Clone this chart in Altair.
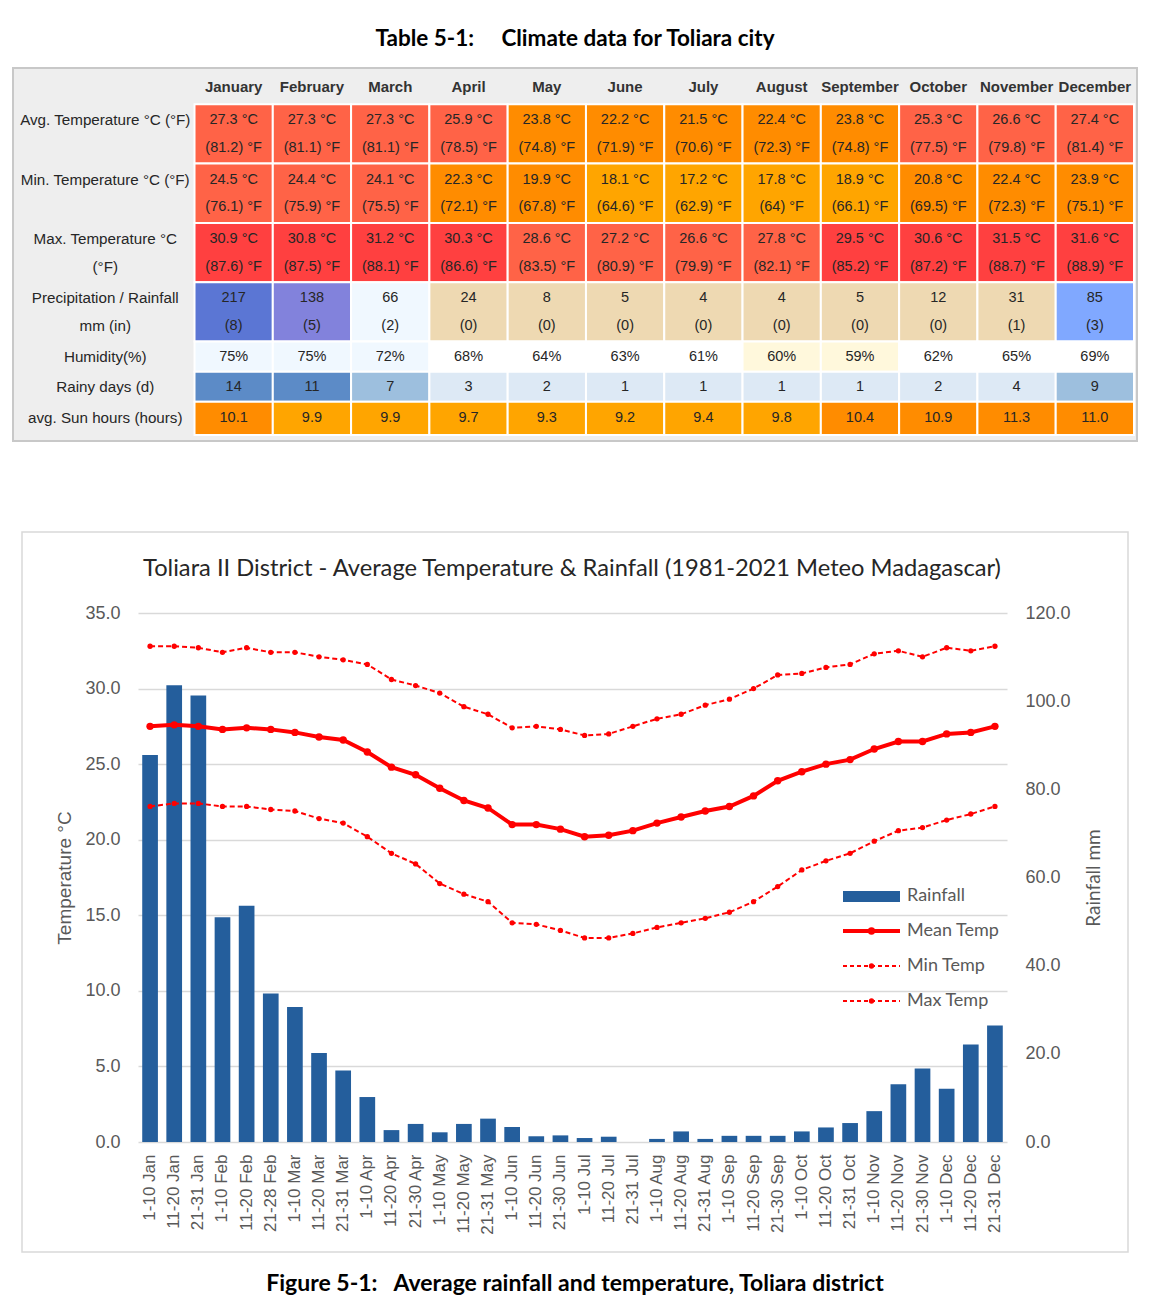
import altair as alt
import numpy as np
import pandas as pd

# ---------------- Table data ----------------
months = ["January", "February", "March", "April", "May", "June", "July",
          "August", "September", "October", "November", "December"]
avg_c = [27.3, 27.3, 27.3, 25.9, 23.8, 22.2, 21.5, 22.4, 23.8, 25.3, 26.6, 27.4]
avg_f = [81.2, 81.1, 81.1, 78.5, 74.8, 71.9, 70.6, 72.3, 74.8, 77.5, 79.8, 81.4]
min_c = [24.5, 24.4, 24.1, 22.3, 19.9, 18.1, 17.2, 17.8, 18.9, 20.8, 22.4, 23.9]
min_f = [76.1, 75.9, 75.5, 72.1, 67.8, 64.6, 62.9, 64, 66.1, 69.5, 72.3, 75.1]
max_c = [30.9, 30.8, 31.2, 30.3, 28.6, 27.2, 26.6, 27.8, 29.5, 30.6, 31.5, 31.6]
max_f = [87.6, 87.5, 88.1, 86.6, 83.5, 80.9, 79.9, 82.1, 85.2, 87.2, 88.7, 88.9]
precip_mm = [217, 138, 66, 24, 8, 5, 4, 4, 5, 12, 31, 85]
precip_in = [8, 5, 2, 0, 0, 0, 0, 0, 0, 0, 1, 3]
humidity = [75, 75, 72, 68, 64, 63, 61, 60, 59, 62, 65, 69]
rainy_days = [14, 11, 7, 3, 2, 1, 1, 1, 1, 2, 4, 9]
sun_hours = [10.1, 9.9, 9.9, 9.7, 9.3, 9.2, 9.4, 9.8, 10.4, 10.9, 11.3, 11.0]
row_labels = [["Avg. Temperature °C (°F)"], ["Min. Temperature °C (°F)"],
              ["Max. Temperature °C", "(°F)"], ["Precipitation / Rainfall", "mm (in)"],
              ["Humidity(%)"], ["Rainy days (d)"], ["avg. Sun hours (hours)"]]
table_title = "Table 5-1:\u00a0\u00a0\u00a0\u00a0\u00a0Climate data for Toliara city"

# ---------------- Chart data ----------------
periods = ["1-10 Jan", "11-20 Jan", "21-31 Jan", "1-10 Feb", "11-20 Feb", "21-28 Feb",
           "1-10 Mar", "11-20 Mar", "21-31 Mar", "1-10 Apr", "11-20 Apr", "21-30 Apr",
           "1-10 May", "11-20 May", "21-31 May", "1-10 Jun", "11-20 Jun", "21-30 Jun",
           "1-10 Jul", "11-20 Jul", "21-31 Jul", "1-10 Aug", "11-20 Aug", "21-31 Aug",
           "1-10 Sep", "11-20 Sep", "21-30 Sep", "1-10 Oct", "11-20 Oct", "21-31 Oct",
           "1-10 Nov", "11-20 Nov", "21-30 Nov", "1-10 Dec", "11-20 Dec", "21-31 Dec"]
rain_mm = [87.8, 103.6, 101.3, 51.0, 53.6, 33.7, 30.6, 20.2, 16.2, 10.2, 2.7, 4.1,
           2.2, 4.1, 5.3, 3.4, 1.3, 1.5, 0.9, 1.2, 0.0, 0.7, 2.4, 0.7,
           1.4, 1.4, 1.4, 2.4, 3.3, 4.3, 7.0, 13.1, 16.7, 12.1, 22.1, 26.4]
mean_temp = [27.5, 27.6, 27.5, 27.3, 27.4, 27.3, 27.1, 26.8, 26.6, 25.8, 24.8, 24.3,
             23.4, 22.6, 22.1, 21.0, 21.0, 20.7, 20.2, 20.3, 20.6, 21.1, 21.5, 21.9,
             22.2, 22.9, 23.9, 24.5, 25.0, 25.3, 26.0, 26.5, 26.5, 27.0, 27.1, 27.5]
max_temp = [32.8, 32.8, 32.7, 32.4, 32.7, 32.4, 32.4, 32.1, 31.9, 31.6, 30.6, 30.2,
            29.7, 28.8, 28.3, 27.4, 27.5, 27.3, 26.9, 27.0, 27.5, 28.0, 28.3, 28.9,
            29.3, 30.0, 30.9, 31.0, 31.4, 31.6, 32.3, 32.5, 32.1, 32.7, 32.5, 32.8]
min_temp = [22.2, 22.4, 22.4, 22.2, 22.2, 22.0, 21.9, 21.4, 21.1, 20.2, 19.1, 18.4,
            17.1, 16.4, 15.9, 14.5, 14.4, 14.0, 13.5, 13.5, 13.8, 14.2, 14.5, 14.8,
            15.2, 15.9, 16.9, 18.0, 18.6, 19.1, 19.9, 20.6, 20.8, 21.3, 21.7, 22.2]
legend_labels = ["Rainfall", "Mean Temp", "Min Temp", "Max Temp"]
chart_title = "Toliara II District - Average Temperature & Rainfall (1981-2021 Meteo Madagascar)"
caption_text = "Figure 5-1:\u00a0\u00a0\u00a0Average rainfall and temperature, Toliara district"

# ---------------- Styles ----------------
TEMP_COLORS = ["#FFA500", "#FF8C00", "#FF6347", "#FF4040"]
PRECIP_COLORS = ["#EED9B2", "#F0F8FF", "#80A8FF", "#8282DC", "#5B76D4"]
HUM_COLORS = ["#FFF8DC", "#FFFFFF", "#F0F8FF"]
RAINY_COLORS = ["#DDE9F5", "#9DBFDE", "#5C8BC7"]
BAR_BLUE = "#245E9C"
RED = "#FF0000"
GRAY = "#595959"

# page layout: plot origin in page pixels
PX0, PY0 = 138, 613
W, H = 869, 529


def rx(px):
    return px - PX0


def ry(py):
    return py - PY0


def pick(vals, thresholds, colors):
    return [colors[int(np.digitize(v, thresholds))] for v in vals]


def fnum(v):
    return f"{v:g}"


row_text = [
    [[f"{c:.1f} °C", f"({fnum(f)}) °F"] for c, f in zip(avg_c, avg_f)],
    [[f"{c:.1f} °C", f"({fnum(f)}) °F"] for c, f in zip(min_c, min_f)],
    [[f"{c:.1f} °C", f"({fnum(f)}) °F"] for c, f in zip(max_c, max_f)],
    [[f"{p}", f"({i})"] for p, i in zip(precip_mm, precip_in)],
    [[f"{h}%"] for h in humidity],
    [[f"{d}"] for d in rainy_days],
    [[f"{s:.1f}"] for s in sun_hours],
]
row_colors = [
    pick(avg_c, [19, 24, 29], TEMP_COLORS),
    pick(min_c, [19, 24, 29], TEMP_COLORS),
    pick(max_c, [19, 24, 29], TEMP_COLORS),
    pick(precip_mm, [50, 80, 100, 200], PRECIP_COLORS),
    pick(humidity, [61, 70], HUM_COLORS),
    pick(rainy_days, [5, 10], RAINY_COLORS),
    pick(sun_hours, [10], [TEMP_COLORS[0], TEMP_COLORS[1]]),
]

# table grid (in cell units)
LABEL_W = 2.28
HEADER_H = 1.07
row_h = [1.97, 1.97, 1.97, 1.97, 1.0, 1.0, 1.1]
TW = LABEL_W + len(months)
TH = HEADER_H + sum(row_h)
line_frac = {1: [0.5], 2: [0.27, 0.74]}

cells, texts, labels = [], [], []
top = HEADER_H
for r in range(len(row_h)):
    y0, y1 = top, top + row_h[r]
    nl = len(row_text[r][0])
    for j in range(len(months)):
        x0 = LABEL_W + j
        cells.append({"x0": x0, "x1": x0 + 1, "y0": y0, "y1": y1, "fill": row_colors[r][j]})
        for k, t in enumerate(row_text[r][j]):
            texts.append({"x": x0 + 0.5, "y": y0 + line_frac[nl][k] * row_h[r], "t": t})
    for k, t in enumerate(row_labels[r]):
        labels.append({"x": LABEL_W / 2, "y": y0 + line_frac[nl][k] * row_h[r], "t": t})
    top = y1
headers = [{"x": LABEL_W + j + 0.5, "y": HEADER_H * 0.48, "t": m} for j, m in enumerate(months)]

xs = alt.Scale(domain=[0, TW], range=[rx(16), rx(1134)])
ys = alt.Scale(domain=[0, TH], range=[ry(72), ry(435)])
one = pd.DataFrame({"k": [0]})

anchor = alt.Chart(one).mark_rect(opacity=0).encode(
    x=alt.value(rx(8)), x2=alt.value(rx(9)), y=alt.value(ry(8)), y2=alt.value(ry(9)))

table_bg = alt.Chart(one).mark_rect(fill="#EEEEEE", stroke="#C8C8C8", strokeWidth=2).encode(
    x=alt.value(rx(13)), x2=alt.value(rx(1137)), y=alt.value(ry(68)), y2=alt.value(ry(441)))
cell_rects = alt.Chart(pd.DataFrame(cells)).mark_rect(stroke="white", strokeWidth=2).encode(
    x=alt.X("x0:Q", scale=xs, axis=None), x2="x1",
    y=alt.Y("y0:Q", scale=ys, axis=None), y2="y1",
    color=alt.Color("fill:N", scale=None),
)


def table_text(rows, size, weight="normal", color="#262626"):
    return alt.Chart(pd.DataFrame(rows)).mark_text(
        font="Liberation Sans", fontSize=size, fontWeight=weight, color=color
    ).encode(x=alt.X("x:Q", scale=xs, axis=None), y=alt.Y("y:Q", scale=ys, axis=None),
             text="t:N")


table_title_mark = alt.Chart(one).mark_text(
    align="center", baseline="middle", font="Lato", fontSize=22.5, fontWeight="bold",
    color="#000000").encode(x=alt.value(rx(575)), y=alt.value(ry(39)),
                            text=alt.value(table_title))

table_layer = alt.layer(table_bg, cell_rects, table_text(texts, 14.5),
                        table_text(labels, 15.2), table_text(headers, 15, "bold", "#333333"),
                        table_title_mark)

# ---------------- Main chart ----------------
cd = pd.DataFrame({"period": periods, "rain": rain_mm, "mean": mean_temp,
                   "tmin": min_temp, "tmax": max_temp})

xenc = alt.X("period:N", sort=periods,
             scale=alt.Scale(paddingInner=0.35, paddingOuter=0.175),
             axis=alt.Axis(title=None, labelAngle=270, labelFontSize=17,
                           labelFont="Liberation Sans", labelColor=GRAY,
                           ticks=False, domain=False, labelPadding=12))

rain_axis = alt.Axis(orient="right", values=list(range(0, 121, 20)), format=".1f",
                     grid=False, ticks=False, domain=False, labelFontSize=18,
                     labelFont="Liberation Sans", labelColor=GRAY, labelPadding=18,
                     title="Rainfall mm", titleAngle=270, titleFont="Lato",
                     titleFontSize=19, titleFontWeight="normal", titleColor=GRAY,
                     titlePadding=33)
temp_axis = alt.Axis(orient="left", values=list(range(0, 36, 5)), format=".1f",
                     grid=True, gridColor="#D9D9D9", gridWidth=1.5, ticks=False,
                     domain=False, labelFontSize=18, labelFont="Liberation Sans",
                     labelColor=GRAY, labelPadding=18, title="Temperature °C",
                     titleAngle=270, titleFont="Liberation Sans", titleFontSize=19,
                     titleFontWeight="normal", titleColor=GRAY, titlePadding=10)
tscale = alt.Scale(domain=[0, 35], nice=False)

frame = alt.Chart(one).mark_rect(fill="white", fillOpacity=0, stroke="#D9D9D9",
                                 strokeWidth=1.5).encode(
    x=alt.value(rx(22)), x2=alt.value(rx(1128)), y=alt.value(ry(532)), y2=alt.value(ry(1252)))

bars = alt.Chart(cd).mark_bar(color=BAR_BLUE).encode(
    x=xenc, y=alt.Y("rain:Q", scale=alt.Scale(domain=[0, 120], nice=False), axis=rain_axis))


def temp_layers(field, width, dash, size):
    kw = {"strokeDash": dash} if dash else {}
    ln = alt.Chart(cd).mark_line(color=RED, strokeWidth=width, **kw).encode(
        x=xenc, y=alt.Y(f"{field}:Q", scale=tscale, axis=temp_axis))
    pt = alt.Chart(cd).mark_point(filled=True, color=RED, size=size, opacity=1).encode(
        x=xenc, y=alt.Y(f"{field}:Q", scale=tscale, axis=temp_axis))
    return [ln, pt]


temps = alt.layer(*temp_layers("mean", 4, None, 55),
                  *temp_layers("tmin", 2, [5, 3], 28),
                  *temp_layers("tmax", 2, [5, 3], 28))

# legend (drawn inside the plot, right side)
LX0, LX1, LTX = rx(843), rx(900), rx(907)
ly = [ry(896), ry(931), ry(966), ry(1001)]
leg = [
    alt.Chart(one).mark_rect(color=BAR_BLUE).encode(
        x=alt.value(LX0), x2=alt.value(LX1), y=alt.value(ly[0] - 5), y2=alt.value(ly[0] + 6)),
    alt.Chart(one).mark_rule(color=RED, strokeWidth=4).encode(
        x=alt.value(LX0), x2=alt.value(LX1), y=alt.value(ly[1])),
    alt.Chart(one).mark_point(filled=True, color=RED, size=55, opacity=1).encode(
        x=alt.value((LX0 + LX1) / 2), y=alt.value(ly[1])),
]
for yy in ly[2:]:
    leg.append(alt.Chart(one).mark_rule(color=RED, strokeWidth=2, strokeDash=[4, 3]).encode(
        x=alt.value(LX0), x2=alt.value(LX1), y=alt.value(yy)))
    leg.append(alt.Chart(one).mark_point(filled=True, color=RED, size=28, opacity=1).encode(
        x=alt.value((LX0 + LX1) / 2), y=alt.value(yy)))
for lab, yy in zip(legend_labels, ly):
    leg.append(alt.Chart(one).mark_text(align="left", baseline="middle", font="Lato",
                                         fontSize=18, color=GRAY).encode(
        x=alt.value(LTX), y=alt.value(yy), text=alt.value(lab)))

main_title = alt.Chart(one).mark_text(align="center", baseline="middle", font="Lato",
                                      fontSize=23.7, color="#262626").encode(
    x=alt.value(rx(572)), y=alt.value(ry(569)), text=alt.value(chart_title))
caption = alt.Chart(one).mark_text(align="center", baseline="middle", font="Lato",
                                   fontSize=23, fontWeight="bold", color="#000000").encode(
    x=alt.value(rx(575)), y=alt.value(ry(1284)), text=alt.value(caption_text))

main_layer = alt.layer(frame, bars, temps, *leg, main_title, caption).resolve_scale(
    y="independent")

chart = alt.layer(anchor, table_layer, main_layer).resolve_scale(
    x="independent", y="independent"
).properties(width=W, height=H, padding=0).configure_view(strokeWidth=0)

chart.save("out.html", embed_options={"renderer": "svg", "actions": False})
